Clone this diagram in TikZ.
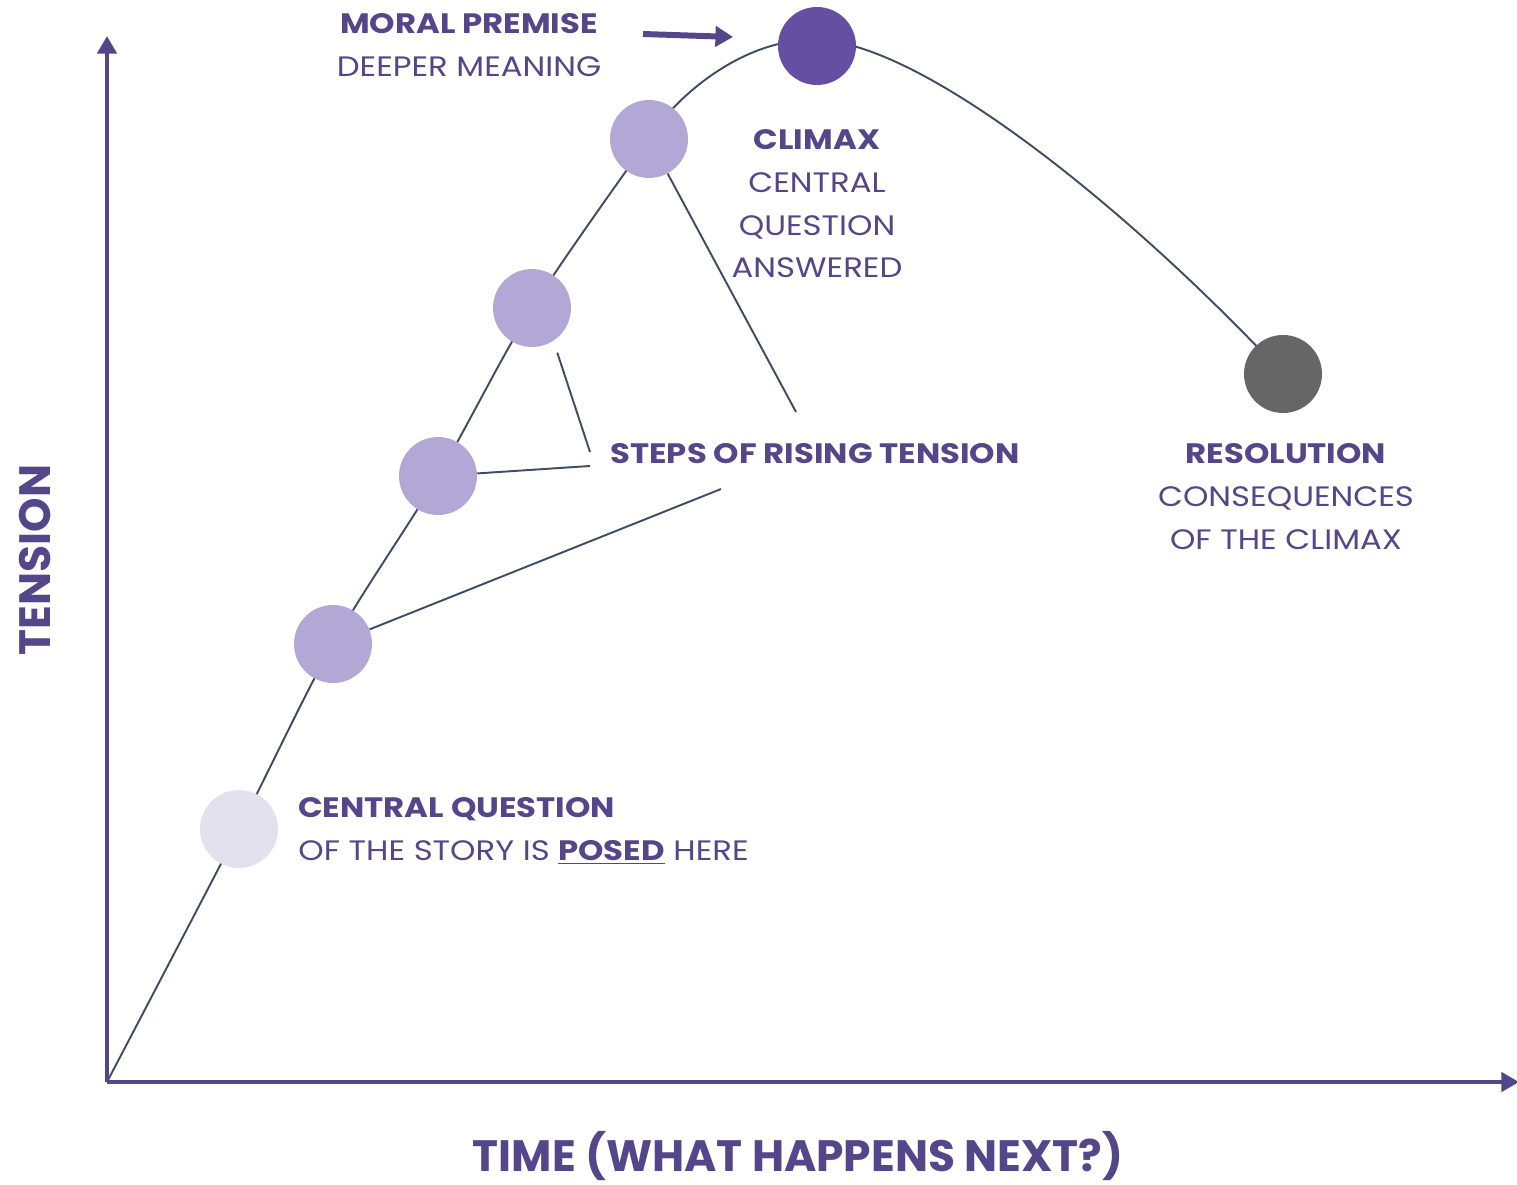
\documentclass[tikz,border=0pt]{standalone}
\usepackage{fontspec}
\setmainfont{Poppins}
\newfontfamily\widefont{Poppins}[FakeStretch=1.15]
\usepackage{tikz}
\usetikzlibrary{arrows.meta,backgrounds,positioning}

\definecolor{inkpurple}{RGB}{84,70,138}
\definecolor{climaxpurple}{RGB}{101,79,163}
\definecolor{steppurple}{RGB}{179,167,213}
\definecolor{palepurple}{RGB}{227,225,238}
\definecolor{resgrey}{RGB}{102,102,102}
\definecolor{slate}{RGB}{63,77,100}

\begin{document}
\begin{tikzpicture}[x=0.02cm,y=-0.02cm]
  \tikzset{
    dot/.style={circle,minimum size=1.56cm,inner sep=0pt},
    lbl/.style={text=inkpurple,inner sep=0pt,align=center,
      font=\widefont\fontsize{16}{24.4}\selectfont},
    axislbl/.style={text=inkpurple,inner sep=0pt,
      font=\fontsize{25}{30}\selectfont\bfseries},
    axis/.style={draw=inkpurple,line width=2.8pt,
      -{Triangle[width=10.8pt,length=10pt]}},
    curve/.style={draw=slate,line width=1.1pt},
    pointer/.style={draw=slate,line width=1.1pt}
  }
  \useasboundingbox (0,0) rectangle (1517,1185);

  % axes
  \coordinate (o) at (107,1082);
  \coordinate (ytop) at (107,36);
  \coordinate (xend) at (1519,1082);
  \draw[axis] (o) -- (ytop);
  \draw[axis] (o) -- (xend);
  \node[axislbl,rotate=90] (tension) at (35,560) {TENSION};
  \node[axislbl] (time) at (798,1156) {TIME (WHAT HAPPENS NEXT?)};

  % the points of the story
  \node[dot,fill=palepurple] (q) at (239,829) {};
  \node[dot,fill=steppurple] (s1) at (333,644) {};
  \node[dot,fill=steppurple] (s2) at (438,476) {};
  \node[dot,fill=steppurple] (s3) at (532,308) {};
  \node[dot,fill=steppurple] (s4) at (649,139) {};
  \node[dot,fill=climaxpurple] (climax) at (817,46) {};
  \node[dot,fill=resgrey] (res) at (1283,374) {};
  \coordinate (peak) at (815,40);

  \begin{scope}[on background layer]
    \draw[curve] plot[smooth,tension=0.55] coordinates {(o) (q.center)
      (s1.center) (s2.center) (s3.center) (s4.center)}
      .. controls (676,95) and (745,38) .. (peak)
      .. controls (920,40) and (1130,210) .. (res.center);
  \end{scope}

  % labels
  \node[lbl,anchor=north] (moral) at (469,13)
    {\textbf{MORAL PREMISE}\\DEEPER MEANING};
  \node[lbl,anchor=north] (climaxtxt) at (817,129)
    {\textbf{CLIMAX}\\CENTRAL\\QUESTION\\ANSWERED};
  \node[lbl,anchor=north] (restxt) at (1286,443)
    {\textbf{RESOLUTION}\\CONSEQUENCES\\OF THE CLIMAX};
  \node[lbl,anchor=north west,align=left] (posed) at (298,797)
    {\textbf{CENTRAL QUESTION}\\OF THE STORY IS \underline{\textbf{POSED}} HERE};
  \node[lbl,anchor=north west] (steps) at (610,443)
    {\textbf{STEPS OF RISING TENSION}};

  % pointers to the steps
  \coordinate (e1) at (721,489);
  \coordinate (e2) at (590,466);
  \coordinate (e3) at (590,452);
  \coordinate (e4) at (796,412);
  \draw[pointer] (s1) -- (e1);
  \draw[pointer] (s2) -- (e2);
  \draw[pointer,shorten <=7pt] (s3.-57) -- (e3);
  \draw[pointer] (s4) -- (e4);

  % moral premise arrow
  \coordinate (mpfrom) at (643,34);
  \coordinate (mptip) at (733,37);
  \draw[draw=inkpurple,line width=3.4pt,
    -{Triangle[width=11.4pt,length=10pt]}] (mpfrom) -- (mptip);
\end{tikzpicture}
\end{document}
